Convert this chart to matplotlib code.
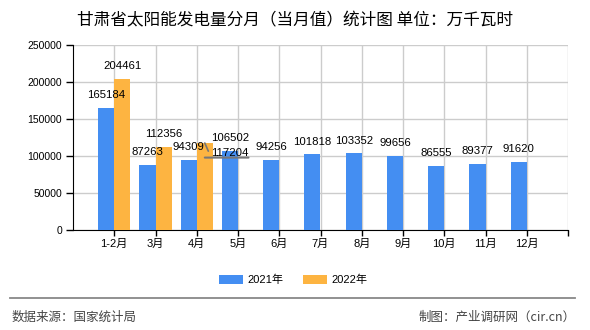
import numpy as np
import matplotlib
matplotlib.use("Agg")
import matplotlib.pyplot as plt
from matplotlib.patches import Patch

plt.rcParams['font.family'] = ['Liberation Sans', 'Noto Sans CJK SC', 'DejaVu Sans']

# 数据
months = ["1-2月", "3月", "4月", "5月", "6月", "7月", "8月", "9月", "10月", "11月", "12月"]
vals_2021 = [165184, 87263, 94309, 106502, 94256, 101818, 103352, 99656, 86555, 89377, 91620]
vals_2022 = [204461, 112356, 117204]
series_names = ["2021年", "2022年"]
y_ticks = [0, 50000, 100000, 150000, 200000, 250000]

c2021 = "#448ef2"
c2022 = "#fdb441"

fig = plt.figure(figsize=(5.9, 3.3), dpi=100)
ax = fig.add_axes([73 / 590, 1 - 229.5 / 330, (568 - 73) / 590, (229.5 - 45) / 330])

x = np.arange(1, len(months) + 1)
w = 0.39
x22 = x[:len(vals_2022)]
ax.bar(x - w / 2, vals_2021, width=w, color=c2021, zorder=3)
ax.bar(x22 + w / 2, vals_2022, width=w, color=c2022, zorder=3)

lab_fs = 8.2
for xi, v in zip(x, vals_2021):
    ax.annotate(str(v), (xi - w / 2, v), xytext=(0, 5.5), textcoords="offset points",
                ha="center", va="bottom", fontsize=lab_fs, zorder=5)
for i, (xi, v) in enumerate(zip(x22, vals_2022)):
    if i == 2:
        # 被挤开的标签，带引导线
        t = ax.annotate(str(v), (xi + w / 2, v), xytext=(18, -10.5), textcoords="offset points",
                        ha="center", va="bottom", fontsize=lab_fs, zorder=5,
                        arrowprops=dict(arrowstyle="-", color="#777777", lw=1.2,
                                        relpos=(0, 0), shrinkA=0, shrinkB=0))
        ax.annotate("", xy=(1, 0), xycoords=t, xytext=(0, 0), textcoords=t,
                    arrowprops=dict(arrowstyle="-", color="#777777", lw=1.5,
                                    shrinkA=0, shrinkB=0))
    else:
        ax.annotate(str(v), (xi + w / 2, v), xytext=(0, 5.5), textcoords="offset points",
                    ha="center", va="bottom", fontsize=lab_fs, zorder=5)

ax.set_xlim(0, len(months) + 1)
ax.set_ylim(0, 250000)
ax.set_yticks(y_ticks)
ax.set_yticklabels([str(t) for t in y_ticks], fontsize=7.5)
ax.set_xticks(x)
ax.set_xticklabels(months, fontsize=8)
ax.set_xticks([len(months) + 1], minor=True)

ax.grid(True, which="both", color="#cccccc", lw=1, zorder=0)
ax.spines["top"].set_visible(False)
ax.spines["right"].set_visible(False)
ax.spines["left"].set_color("black")
ax.spines["bottom"].set_color("black")
ax.tick_params(axis="y", length=5, pad=3, width=1)
ax.tick_params(axis="x", which="both", length=4, pad=3, width=1)

fig.text(0.5, 0.936, "甘肃省太阳能发电量分月（当月值）统计图 单位：万千瓦时",
         ha="center", va="center", fontsize=12, family=['Noto Sans CJK SC', 'DejaVu Sans'])

handles = [Patch(facecolor=c2021), Patch(facecolor=c2022)]
fig.legend(handles, series_names, loc="center", bbox_to_anchor=(0.497, 0.152), ncol=2,
           frameon=False, fontsize=8, handlelength=2.1, handleheight=0.9,
           handletextpad=0.4, columnspacing=1.8)

fig.add_artist(plt.Line2D([10 / 590, 575 / 590], [1 - 298 / 330, 1 - 298 / 330],
                          color="#888888", lw=1.3, transform=fig.transFigure))
fig.text(12 / 590, 1 - 317 / 330, "数据来源：国家统计局", ha="left", va="center",
         fontsize=9, color="#444444", family=['Noto Sans CJK SC', 'DejaVu Sans'])
fig.text(576 / 590, 1 - 317 / 330, "制图：产业调研网（cir.cn）", ha="right", va="center",
         fontsize=9, color="#444444", family=['Noto Sans CJK SC', 'DejaVu Sans'])

fig.savefig("out.png", dpi=100)
